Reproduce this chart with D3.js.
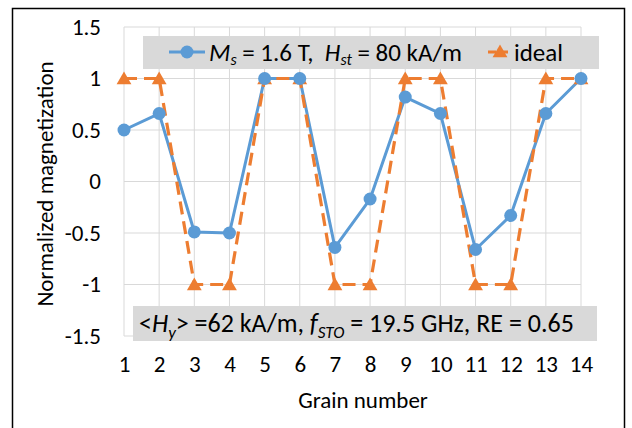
<!DOCTYPE html>
<html>
<head>
<meta charset="utf-8">
<script src="https://cdn.jsdelivr.net/npm/d3@7"></script>
<style>
  html, body { margin: 0; padding: 0; background: #fff; }
  svg { display: block; }
  text { font-family: Carlito, Lato, "Liberation Sans", sans-serif; fill: #000; white-space: pre; }
</style>
</head>
<body>
<svg id="chart" width="632" height="428"></svg>
<script>
// Grain index along the track
const grains = [1, 2, 3, 4, 5, 6, 7, 8, 9, 10, 11, 12, 13, 14];
// Simulated normalized magnetization (Ms = 1.6 T, Hst = 80 kA/m)
const simulated = [0.5, 0.66, -0.49, -0.5, 1, 1, -0.64, -0.17, 0.82, 0.66, -0.66, -0.33, 0.66, 1];
// Ideal written pattern
const ideal = [1, 1, -1, -1, 1, 1, -1, -1, 1, 1, -1, -1, 1, 1];
// Y axis ticks
const yTicks = [-1.5, -1, -0.5, 0, 0.5, 1, 1.5];

const blue = "#5b9bd5";
const orange = "#ed7d31";
const axisFont = 23;

const svg = d3.select("#chart");

// outer chart frame
svg.append("rect")
  .attr("x", 12.5).attr("y", 8.5)
  .attr("width", 612).attr("height", 440)
  .attr("fill", "#fff").attr("stroke", "#000").attr("stroke-width", 1.5);

const plot = { left: 124, right: 581, top: 27, bottom: 336 };

const x = d3.scalePoint().domain(grains).range([plot.left, plot.right]);
const y = d3.scaleLinear().domain([-1.5, 1.5]).range([plot.bottom, plot.top]);

// gridlines
const grid = svg.append("g").attr("stroke", "#d9d9d9").attr("stroke-width", 1);
grid.selectAll("line.h").data(yTicks).join("line")
  .attr("class", "h")
  .attr("x1", plot.left).attr("x2", plot.right)
  .attr("y1", d => y(d)).attr("y2", d => y(d));
grid.selectAll("line.v").data(grains).join("line")
  .attr("class", "v")
  .attr("x1", d => x(d)).attr("x2", d => x(d))
  .attr("y1", plot.top).attr("y2", plot.bottom);

// y axis tick labels
const yAxis = d3.axisLeft(y).tickValues(yTicks).tickSize(0).tickPadding(0)
  .tickFormat(d => String(d));
svg.append("g").attr("transform", `translate(${101},0)`).call(yAxis)
  .call(g => g.select(".domain").remove())
  .call(g => g.selectAll("text").attr("font-size", axisFont).attr("font-family", null).attr("fill", "#000"));

// x axis tick labels
const xAxis = d3.axisBottom(x).tickSize(0).tickPadding(0);
svg.append("g").attr("transform", `translate(0,${356})`).call(xAxis)
  .call(g => g.select(".domain").remove())
  .call(g => g.selectAll("text").attr("font-size", axisFont).attr("font-family", null).attr("fill", "#000"));

// axis titles
svg.append("text")
  .attr("x", 363).attr("y", 408)
  .attr("text-anchor", "middle").attr("font-size", axisFont)
  .text("Grain number");
svg.append("text")
  .attr("transform", `translate(53,184) rotate(-90)`)
  .attr("text-anchor", "middle").attr("font-size", axisFont)
  .text("Normalized magnetization");

// annotation box at the bottom of the plot
svg.append("rect")
  .attr("x", 133).attr("y", 306).attr("width", 464).attr("height", 35)
  .attr("fill", "#d9d9d9");
const note = svg.append("text").attr("x", 139).attr("y", 332).attr("font-size", 26);
note.append("tspan").text("<");
note.append("tspan").attr("font-style", "italic").text("H");
note.append("tspan").attr("font-style", "italic").attr("font-size", 17).attr("dy", 6).text("y");
note.append("tspan").attr("dy", -6).text("> =62 kA/m, ");
note.append("tspan").attr("font-style", "italic").text("f");
note.append("tspan").attr("font-style", "italic").attr("font-size", 17).attr("dy", 6).text("STO");
note.append("tspan").attr("dy", -6).text(" = 19.5 GHz, RE = 0.65");

// series lines
const line = d3.line().x((d, i) => x(grains[i])).y(d => y(d));

svg.append("path").datum(simulated)
  .attr("d", line).attr("fill", "none")
  .attr("stroke", blue).attr("stroke-width", 3).attr("stroke-linejoin", "round");

svg.append("path").datum(ideal)
  .attr("d", line).attr("fill", "none")
  .attr("stroke", orange).attr("stroke-width", 3.2)
  .attr("stroke-dasharray", "13,7");

// markers
const tri = d3.symbol().type(d3.symbolTriangle).size(95);
svg.append("g").selectAll("path").data(ideal).join("path")
  .attr("d", tri)
  .attr("transform", (d, i) => `translate(${x(grains[i])},${y(d) + 1.5})`)
  .attr("fill", orange);

svg.append("g").selectAll("circle").data(simulated).join("circle")
  .attr("cx", (d, i) => x(grains[i])).attr("cy", d => y(d))
  .attr("r", 6.5).attr("fill", blue);

// legend
svg.append("rect")
  .attr("x", 143).attr("y", 36).attr("width", 456).attr("height", 33)
  .attr("fill", "#d9d9d9");
svg.append("line")
  .attr("x1", 169).attr("x2", 205).attr("y1", 52).attr("y2", 52)
  .attr("stroke", blue).attr("stroke-width", 3);
svg.append("circle").attr("cx", 187).attr("cy", 52).attr("r", 6.5).attr("fill", blue);

const lt = svg.append("text").attr("x", 209).attr("y", 61).attr("font-size", 25);
lt.append("tspan").attr("font-style", "italic").text("M");
lt.append("tspan").attr("font-style", "italic").attr("font-size", 16).attr("dy", 4).text("s");
lt.append("tspan").attr("dy", -4).text(" = 1.6 T,  ");
lt.append("tspan").attr("font-style", "italic").text("H");
lt.append("tspan").attr("font-style", "italic").attr("font-size", 16).attr("dy", 4).text("st");
lt.append("tspan").attr("dy", -4).text(" = 80 kA/m");

svg.append("line")
  .attr("x1", 488).attr("x2", 512).attr("y1", 52).attr("y2", 52)
  .attr("stroke", orange).attr("stroke-width", 3).attr("stroke-dasharray", "8,4");
svg.append("path").attr("d", tri)
  .attr("transform", "translate(500,53)").attr("fill", orange);
svg.append("text").attr("x", 514).attr("y", 61).attr("font-size", 25).text("ideal");
</script>
</body>
</html>
